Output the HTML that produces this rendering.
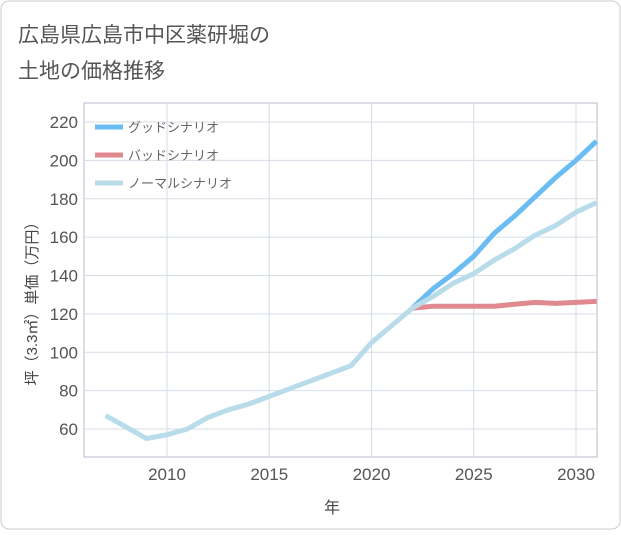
<!DOCTYPE html>
<html><head><meta charset="utf-8"><style>
body{margin:0;background:#fff;}
#wrap{position:relative;width:621px;height:530px;font-family:"Liberation Sans","Noto Sans CJK JP",sans-serif;}
svg text{font-family:"Liberation Sans","Noto Sans CJK JP",sans-serif;}
</style></head><body>
<div id="wrap">
<svg id="chart" width="621" height="530">
<rect x="1" y="1" width="619" height="528" rx="8" fill="#fff" stroke="#ccc"/>
<text x="18" y="42" font-size="21" fill="#555">広島県広島市中区薬研堀の</text>
<text x="18" y="78" font-size="21" fill="#555">土地の価格推移</text>
<g id="grid"></g><g id="series"></g><g id="axes"></g>
<text x="332" y="513" font-size="16" fill="#444" text-anchor="middle">年</text>
<text transform="translate(37,300) rotate(-90)" font-size="15" fill="#444" text-anchor="middle">坪（3.3㎡）単価（万円）</text>
</svg></div>
<script>
const years=[2007,2008,2009,2010,2011,2012,2013,2014,2015,2016,2017,2018,2019,2020,2021,2022,2023,2024,2025,2026,2027,2028,2029,2030,2031];
const normalVals=[67,61,55,57,60,66,70,73,77,81,85,89,93,105,114,123,129,136,141,148,154,161,166,173,178];
const goodYears=[2022,2023,2024,2025,2026,2027,2028,2029,2030,2031];
const goodVals=[123,133,141,150,162,171,181,191,200,210];
const badVals=[123,124,124,124,124,125,126,125.5,126,126.5];
const xTicks=[2010,2015,2020,2025,2030];
const yTicks=[60,80,100,120,140,160,180,200,220];
const L=84,R=597,T=103,B=457;
const xs=y=>167+(y-2010)*(576-167)/20;
const ys=v=>429-(v-60)*(429-122)/160;
const NS="http://www.w3.org/2000/svg";
function mk(t,a,p){const e=document.createElementNS(NS,t);for(const k in a)e.setAttribute(k,a[k]);p.appendChild(e);return e;}
const grid=document.getElementById('grid'),axes=document.getElementById('axes'),ser=document.getElementById('series');
const bg=mk('rect',{x:L,y:T,width:R-L,height:B-T,fill:'#fff',stroke:'#bbc'},grid);


yTicks.forEach(v=>{const l=mk('line',{x1:L,x2:R,y1:ys(v),y2:ys(v),stroke:'#d5dde6'},grid);


const t=mk('text',{x:L-6,y:ys(v)+6,'font-size':17,fill:'#555','text-anchor':'end'},axes);t.textContent=v;

});
xTicks.forEach(v=>{const l=mk('line',{x1:xs(v),x2:xs(v),y1:T,y2:B,stroke:'#d5dde6'},grid);


const t=mk('text',{x:xs(v),y:B+23,'font-size':17,fill:'#555','text-anchor':'middle'},axes);t.textContent=v;

});
function line(xv,yv,c,name){const p=mk('polyline',{points:xv.map((x,i)=>xs(x)+','+ys(yv[i])).join(' '),fill:'none',stroke:c,'stroke-width':5,'stroke-linejoin':'round'},ser);

}
line(goodYears,goodVals,'#6bbcf2','good-scenario-line');
line(goodYears,badVals,'#e08a90','bad-scenario-line');
line(years,normalVals,'#b9dcea','normal-scenario-line');
const leg=[['グッドシナリオ','#6bbcf2'],['バッドシナリオ','#e08a90'],['ノーマルシナリオ','#b9dcea']];
leg.forEach((d,i)=>{const y=127+i*28;
const g=mk('g',{},axes);


mk('line',{x1:95,x2:123,y1:y,y2:y,stroke:d[1],'stroke-width':5},g);
const t=mk('text',{x:128,y:y+5,'font-size':13,fill:'#666'},g);t.textContent=d[0];});
</script></body></html>
